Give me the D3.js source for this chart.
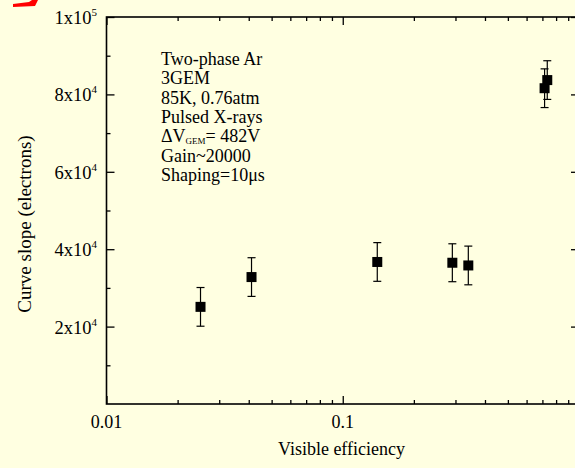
<!DOCTYPE html>
<html>
<head>
<meta charset="utf-8">
<script src="https://cdn.jsdelivr.net/npm/d3@7"></script>
<style>
  html, body { margin: 0; padding: 0; background: #ffffe1; }
  svg { display: block; }
  text { font-family: "Liberation Serif", "Times New Roman", serif; fill: #000; }
</style>
</head>
<body>
<svg id="chart" width="575" height="468"></svg>
<script>
// ---- data ----
const efficiency = [0.0250, 0.0411, 0.140, 0.291, 0.340, 0.715, 0.734];
const slope      = [25100, 32800, 36700, 36500, 35800, 81600, 83700];
const slopeErr   = [5000, 5000, 5000, 4900, 5000, 5000, 5000];
const xTickLabels = ["0.01", "0.1"];
const xTickValues = [0.01, 0.1];
const yTickMantissa = ["2", "4", "6", "8", "1"];
const yTickExponent = ["4", "4", "4", "4", "5"];
const yTickValues = [20000, 40000, 60000, 80000, 100000];
const annotation = ["Two-phase Ar", "3GEM", "85K, 0.76atm", "Pulsed X-rays", "__DV__", "Gain~20000", "Shaping=10\u03bcs"];

// ---- layout ----
const svg = d3.select("#chart");
const L = 106.5, R = 579, T = 17, B = 404;
const x = d3.scaleLog().domain([0.01, 1]).range([L, R]);
const y = d3.scaleLinear().domain([0, 100000]).range([B, T]);

// decoration mark top-left
svg.append("path").attr("d", "M13,4 L29,2 L32,0 L38,0 L35,6 L13,7 Z").attr("fill", "#ff0000");

const xMinor = [];
for (let d = 0.01; d < 1; d *= 10) for (let k = 1; k <= 9; k++) xMinor.push(+(k * d).toPrecision(3));
const xMinorOnly = xMinor.filter(v => !xTickValues.includes(v));
const yMinor = d3.range(10000, 100000, 20000);

const g = svg.append("g");
function axisStyle(sel) {
  sel.select(".domain").remove();
  sel.selectAll("line").attr("stroke", "#000").attr("stroke-width", 1.3);
  sel.selectAll("text").remove();
}
// bottom
g.append("g").attr("transform", `translate(0,${B})`).call(d3.axisBottom(x).tickValues(xTickValues).tickSize(-8).tickFormat("")).call(axisStyle);
g.append("g").attr("transform", `translate(0,${B})`).call(d3.axisBottom(x).tickValues(xMinorOnly).tickSize(-4).tickFormat("")).call(axisStyle);
// top
g.append("g").attr("transform", `translate(0,${T})`).call(d3.axisTop(x).tickValues(xTickValues).tickSize(-8).tickFormat("")).call(axisStyle);
g.append("g").attr("transform", `translate(0,${T})`).call(d3.axisTop(x).tickValues(xMinorOnly).tickSize(-4).tickFormat("")).call(axisStyle);
// left
g.append("g").attr("transform", `translate(${L},0)`).call(d3.axisLeft(y).tickValues(yTickValues).tickSize(-8).tickFormat("")).call(axisStyle);
g.append("g").attr("transform", `translate(${L},0)`).call(d3.axisLeft(y).tickValues(yMinor).tickSize(-4).tickFormat("")).call(axisStyle);
// right
g.append("g").attr("transform", `translate(${R},0)`).call(d3.axisRight(y).tickValues(yTickValues).tickSize(-8).tickFormat("")).call(axisStyle);
g.append("g").attr("transform", `translate(${R},0)`).call(d3.axisRight(y).tickValues(yMinor).tickSize(-4).tickFormat("")).call(axisStyle);

// frame
g.append("rect").attr("x", L).attr("y", T).attr("width", R - L).attr("height", B - T)
  .attr("fill", "none").attr("stroke", "#000").attr("stroke-width", 1.6);

// x tick labels
svg.selectAll(".xl").data(xTickValues).enter().append("text")
  .attr("x", d => x(d)).attr("y", B + 24).attr("text-anchor", "middle")
  .attr("font-size", 18).text((d, i) => xTickLabels[i]);

// y tick labels
yTickValues.forEach((v, i) => {
  const t = svg.append("text").attr("x", 97).attr("y", y(v) + 7).attr("text-anchor", "end").attr("font-size", 18.5);
  t.append("tspan").text(yTickMantissa[i] + "x10");
  t.append("tspan").attr("font-size", 11).attr("dy", -8).text(yTickExponent[i]);
});

// axis titles
svg.append("text").attr("x", 341.5).attr("y", 455).attr("text-anchor", "middle").attr("font-size", 18).text("Visible efficiency");
svg.append("text").attr("transform", "translate(31,224) rotate(-90)").attr("text-anchor", "middle").attr("font-size", 19).text("Curve slope (electrons)");

// annotation
annotation.forEach((s, i) => {
  const t = svg.append("text").attr("x", 161).attr("y", 65 + i * 19.3).attr("font-size", 18);
  if (s === "__DV__") {
    t.append("tspan").text("\u0394V");
    t.append("tspan").attr("font-size", 9).attr("dy", 2).text("GEM");
    t.append("tspan").attr("dy", -2).text("= 482V");
  } else t.text(s);
});

// data
const pts = efficiency.map((e, i) => ({ e, s: slope[i], err: slopeErr[i] }));
const eb = svg.append("g").attr("stroke", "#000").attr("stroke-width", 1.2);
pts.forEach(p => {
  const cx = x(p.e), y1 = y(p.s + p.err), y0 = y(p.s - p.err);
  eb.append("line").attr("x1", cx).attr("x2", cx).attr("y1", y1).attr("y2", y0);
  eb.append("line").attr("x1", cx - 4).attr("x2", cx + 4).attr("y1", y1).attr("y2", y1);
  eb.append("line").attr("x1", cx - 4).attr("x2", cx + 4).attr("y1", y0).attr("y2", y0);
});
svg.append("g").selectAll("rect").data(pts).enter().append("rect")
  .attr("x", d => x(d.e) - 5).attr("y", d => y(d.s) - 5).attr("width", 10).attr("height", 10).attr("fill", "#000");
</script>
</body>
</html>
